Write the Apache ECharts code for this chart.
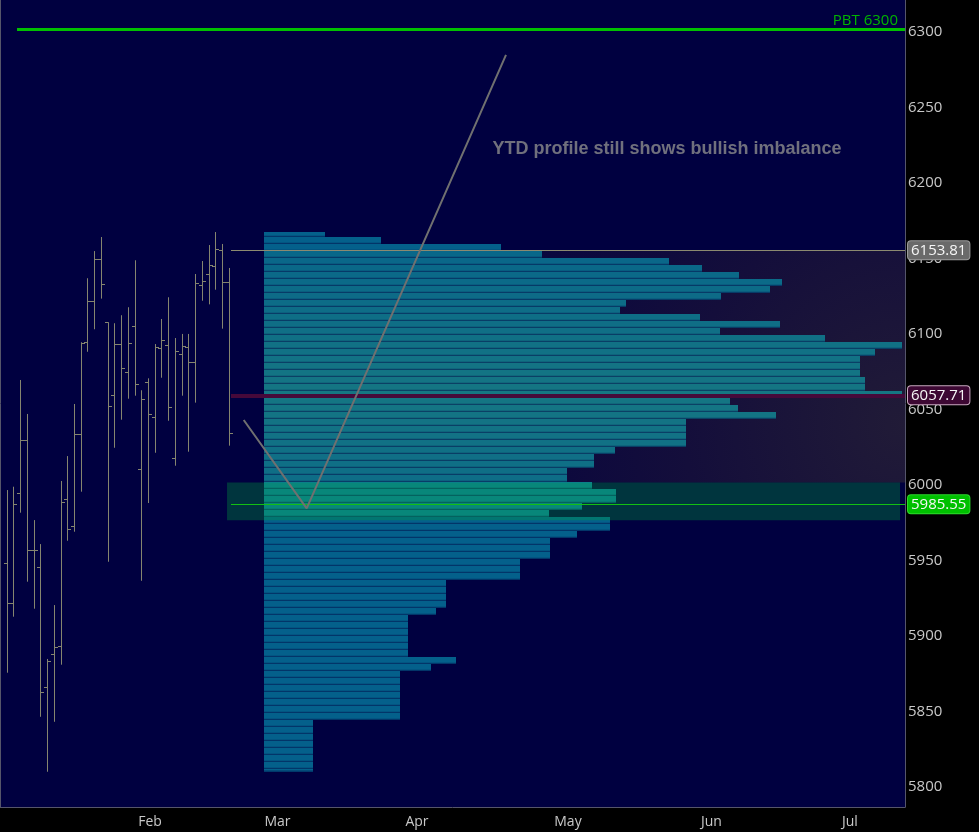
<!DOCTYPE html>
<html><head><meta charset="utf-8">
<script src="https://cdn.jsdelivr.net/npm/echarts@6/dist/echarts.min.js"></script>
<style>html,body{margin:0;padding:0;background:#000;}#c{width:979px;height:832px;}</style>
</head><body><div id="c"></div>
<script>
// ---- data ----
const ohlcOpen  = [5946.5,5920.0,5992.8,6027.9,5955.1,5943.8,5864.3,5886.2,5891.5,5988.9,5971.0,6031.9,6092.9,6120.2,6147.8,6106.1,6057.8,6091.5,6073.0,6103.5,6008.7,6066.4,6043.2,6088.9,6090.9,6016.0,6084.9,6089.6,6079.6,6130.6,6137.9,6143.2,6153.8,6132.6];
const ohlcHigh  = [5995.0,5997.2,6067.9,6045.4,5975.1,5959.2,5883.1,5918.8,6001.0,6017.5,6052.0,6092.9,6135.3,6153.3,6162.6,6106.1,6105.5,6110.8,6116.1,6147.2,6061.1,6069.0,6091.7,6108.3,6122.7,6095.7,6098.4,6098.4,6138.1,6146.7,6157.3,6165.9,6158.0,6142.1];
const ohlcLow   = [5874.0,5911.1,5980.0,5934.3,5916.4,5844.8,5808.4,5841.5,5879.3,5961.4,5967.4,5993.9,6086.6,6101.5,6121.8,5947.5,6023.0,6041.6,6055.5,6057.5,5934.9,5986.4,6019.7,6069.4,6040.9,6011.1,6057.5,6020.4,6052.9,6120.4,6118.0,6127.7,6101.9,6024.4];
const ohlcClose = [5920.0,5985.5,6027.9,5955.1,5955.1,5861.0,5881.5,5890.8,5987.4,5969.0,6031.9,6092.2,6120.2,6147.8,6131.3,6050.5,6091.5,6075.6,6092.2,6065.0,6055.1,6045.2,6089.6,6094.2,6049.8,6086.9,6090.2,6079.6,6132.0,6133.3,6143.9,6154.5,6132.6,6032.6];

// volume profile rows, top (highest price) to bottom
const profileTop = 6167.26;
const profileBin = 4.637;
const profileHigh = 6165.9;
const profileLow = 5808.4;
const profileVolume = [61,117,237,278,405,438,475,518,506,457,362,356,436,516,456,561,638,611,596,596,596,601,601,638,466,474,512,422,422,422,422,351,330,330,303,303,328,352,352,318,285,346,346,313,286,286,286,256,256,256,182,182,182,182,172,144,144,144,144,144,144,192,167,136,136,136,136,136,136,136,49,49,49,49,49,49,49,49];

const monthLabels = ['Feb','Mar','Apr','May','Jun','Jul'];
const monthPos = [21.29,40.24,60.97,83.41,104.74,125.32];
const yTicks = [5800,5850,5900,5950,6000,6050,6100,6150,6200,6250,6300];

const pbtLevel = 6300;
const levelHigh = 6153.81, levelPOC = 6057.71, levelLow = 5985.55;
const bandRange = [5975, 6000];
const valueArea = [6000, 6153.81];

const annoX = [35.22, 44.58, 74.2];
const annoY = [6041.4, 5982.9, 6283.2];
const annoText = 'YTD profile still shows bullish imbalance';
const annoTextPos = [72.12, 6220.9];

// ---- layout constants ----
const X_MIN = -1, X_MAX = 133.5, Y_MIN = 5785.04, Y_MAX = 6319.61;
const VOL_MAX = 641;
const lineStartX = 33.33, pbtStartX = 1.53, bandX = [32.74, 132.76], vaStartX = 38.24;
const NAVY = '#000040', AXIS = '#c8c8c8', BORDER = '#55556a', OHLC_COLOR = '#85856f';
const FONT = 'Open Sans';

function mix(a, b, t) { return a.map((v, i) => v + (b[i] - v) * t); }
function rgb(c) { return 'rgb(' + c.map(v => Math.round(v)).join(',') + ')'; }
function rowColor(p) {
  if (p <= bandRange[1] && p >= bandRange[0]) return [12, 122, 152];
  if (p > valueArea[1] || p < valueArea[0]) return [4, 96, 139];
  const t = Math.max(0, 1 - Math.abs(p - levelPOC) / 110);
  return mix([7, 100, 138], [21, 118, 131], t);
}

const ohlcData = ohlcOpen.map((o, i) => [i, o, ohlcHigh[i], ohlcLow[i], ohlcClose[i]]);
const profileData = profileVolume.map((v, j) => [v, profileTop - j * profileBin]);

function valueLabel(val, bg, border) {
  return {
    show: true, position: 'end', distance: 3,
    formatter: val.toFixed(2),
    color: '#f6f6f6', fontSize: 15, fontFamily: FONT,
    backgroundColor: bg, borderColor: border, borderWidth: 1, borderRadius: 3,
    padding: [1, 3, 0, 3], lineHeight: 17
  };
}

const chart = echarts.init(document.getElementById('c'));
chart.setOption({
  animation: false,
  backgroundColor: '#000000',
  grid: [
    { left: 0, right: 74, top: 0, bottom: 25, show: true, backgroundColor: NAVY, borderWidth: 0, outerBoundsMode: 'none' },
    { left: 264, right: 74, top: 0, bottom: 25, show: false, outerBoundsMode: 'none' }
  ],
  xAxis: [
    { type: 'value', gridIndex: 0, min: X_MIN, max: X_MAX, position: 'bottom',
      axisLine: { show: true, onZero: false, lineStyle: { color: BORDER } }, axisTick: { show: false }, splitLine: { show: false },
      axisLabel: { customValues: monthPos, margin: 8, color: AXIS, fontSize: 14, fontFamily: FONT,
        formatter: v => { let best = 0; monthPos.forEach((m, i) => { if (Math.abs(m - v) < Math.abs(monthPos[best] - v)) best = i; }); return monthLabels[best]; } } },
    { type: 'value', gridIndex: 1, min: 0, max: VOL_MAX, show: false }
  ],
  yAxis: [
    { type: 'value', gridIndex: 0, min: Y_MIN, max: Y_MAX, position: 'right',
      axisLine: { show: true, onZero: false, lineStyle: { color: BORDER } }, axisTick: { show: false }, splitLine: { show: false },
      axisLabel: { customValues: yTicks, margin: 3,
        formatter: v => '{t|' + Math.round(v) + '}',
        rich: { t: { color: AXIS, fontSize: 15, fontFamily: FONT, padding: [5, 0, 0, 0] } } } },
    { type: 'value', gridIndex: 0, min: Y_MIN, max: Y_MAX, position: 'left',
      axisLine: { show: true, onZero: false, lineStyle: { color: BORDER } }, axisTick: { show: false }, splitLine: { show: false }, axisLabel: { show: false } },
    { type: 'value', gridIndex: 1, min: Y_MIN, max: Y_MAX, show: false }
  ],
  series: [
    { // value-area shading
      type: 'line', xAxisIndex: 0, yAxisIndex: 0, data: [], z: 1, silent: true,
      markArea: { silent: true, z: 1,
        itemStyle: { color: { type: 'radial', x: 1, y: 0.75, r: 1.9,
          colorStops: [{ offset: 0, color: '#211b37' }, { offset: 0.5, color: '#140e3b' }, { offset: 1, color: '#07053f' }] } },
        data: [[{ coord: [vaStartX, valueArea[1]] }, { coord: [X_MAX, valueArea[0]] }]] }
    },
    { // volume profile
      type: 'custom', xAxisIndex: 1, yAxisIndex: 2, z: 2, silent: true,
      data: profileData, encode: { x: 0, y: 1 },
      renderItem: (params, api) => {
        const vol = api.value(0);
        let top = api.value(1);
        let bot = top - profileBin;
        const mid = (top + bot) / 2;
        top = Math.min(top, profileHigh); bot = Math.max(bot, profileLow);
        const p0 = api.coord([0, top]);
        const p1 = api.coord([vol, bot]);
        const c = rowColor(mid);
        const sep = mix(c, [0, 0, 64], 0.45);
        const h = p1[1] - p0[1];
        return { type: 'group', children: [
          { type: 'rect', shape: { x: p0[0], y: p0[1], width: p1[0] - p0[0], height: h }, style: { fill: rgb(c) } },
          { type: 'rect', shape: { x: p0[0], y: p1[1] - 1.2, width: p1[0] - p0[0], height: 1.2 }, style: { fill: rgb(sep) } }
        ] };
      }
    },
    { // green zone
      type: 'line', xAxisIndex: 0, yAxisIndex: 0, data: [], z: 3, silent: true,
      markArea: { silent: true, z: 3, itemStyle: { color: 'rgba(0,165,60,0.32)' },
        data: [[{ coord: [bandX[0], bandRange[1]] }, { coord: [bandX[1], bandRange[0]] }]] }
    },
    { // OHLC bars
      type: 'custom', xAxisIndex: 0, yAxisIndex: 0, z: 3, silent: true,
      data: ohlcData, encode: { x: 0, y: [1, 2, 3, 4] },
      renderItem: (params, api) => {
        const x = api.value(0);
        const o = api.coord([x, api.value(1)]);
        const h = api.coord([x, api.value(2)]);
        const l = api.coord([x, api.value(3)]);
        const c = api.coord([x, api.value(4)]);
        const px = Math.round(o[0]) + 0.5;
        const oy = Math.round(o[1]) + 0.5, cy = Math.round(c[1]) + 0.5;
        const st = { stroke: OHLC_COLOR, lineWidth: 1 };
        return { type: 'group', children: [
          { type: 'line', shape: { x1: px, y1: h[1], x2: px, y2: l[1] }, style: st },
          { type: 'line', shape: { x1: px - 3.5, y1: oy, x2: px, y2: oy }, style: st },
          { type: 'line', shape: { x1: px, y1: cy, x2: px + 3.5, y2: cy }, style: st }
        ] };
      }
    },
    { // key levels
      type: 'line', xAxisIndex: 0, yAxisIndex: 0, data: [], z: 4, silent: true,
      markLine: { silent: true, z: 4, symbol: ['none', 'none'], animation: false,
        data: [
          [{ coord: [pbtStartX, pbtLevel], lineStyle: { color: '#00c000', width: 3, type: 'solid' },
             label: { show: true, position: 'insideEndTop', distance: [7, 1], formatter: 'PBT ' + pbtLevel, color: '#00b400', fontSize: 15, fontFamily: FONT } },
           { coord: [X_MAX, pbtLevel] }],
          [{ coord: [lineStartX, levelHigh], lineStyle: { color: '#8c8a70', width: 1, type: 'solid' }, label: valueLabel(levelHigh, '#6a6a6a', '#9c9c9c') },
           { coord: [X_MAX, levelHigh] }],
          [{ coord: [lineStartX, levelPOC], lineStyle: { color: '#46093a', width: 4, type: 'solid' }, label: valueLabel(levelPOC, '#3d0833', '#c9a9c0') },
           { coord: [X_MAX, levelPOC] }],
          [{ coord: [lineStartX, levelLow], lineStyle: { color: '#12c012', width: 1, type: 'solid' }, label: valueLabel(levelLow, '#00c000', '#2ed82e') },
           { coord: [X_MAX, levelLow] }]
        ] }
    },
    { // annotation path
      type: 'line', xAxisIndex: 0, yAxisIndex: 0, z: 5, silent: true, symbol: 'none',
      data: annoX.map((x, i) => [x, annoY[i]]),
      lineStyle: { color: '#707070', width: 2 }
    },
    { // annotation text
      type: 'scatter', xAxisIndex: 0, yAxisIndex: 0, z: 5, silent: true, symbolSize: 1,
      itemStyle: { color: 'rgba(0,0,0,0)' },
      data: [annoTextPos],
      label: { show: true, position: 'right', distance: 0, formatter: annoText,
        color: '#8c8c8c', fontSize: 18, fontWeight: 'bold', fontFamily: 'Liberation Sans, Arial' }
    }
  ]
});
</script>
</body></html>
